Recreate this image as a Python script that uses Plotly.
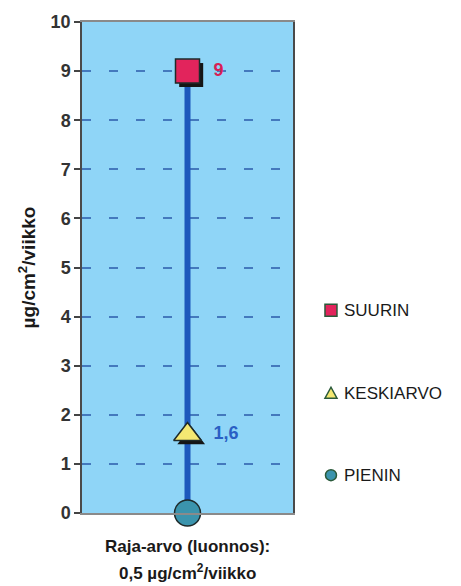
import plotly.graph_objects as go

# Measured values (µg/cm²/viikko)
series_names = ["SUURIN", "KESKIARVO", "PIENIN"]
series_values = [9, 1.6, 0]
value_labels = ["9", "1,6", ""]
category_lines = ["Raja-arvo (luonnos):", "0,5 µg/cm<sup>2</sup>/viikko"]
y_ticks = list(range(0, 11))

FONT = "Liberation Sans, Arial, sans-serif"
marker_symbols = ["square", "triangle-up", "circle"]
marker_colors = ["#e2245c", "#f4e872", "#3b94ad"]
label_colors = ["#d81e55", "#2a5fc4", "#2a5fc4"]
marker_sizes = [24, 24, 26]

x0 = 0
fig = go.Figure()

# Vertical range line from min to max
fig.add_trace(go.Scatter(
    x=[x0, x0], y=[min(series_values), max(series_values)],
    mode="lines", line=dict(color="#1d58bc", width=6),
    showlegend=False, hoverinfo="skip", cliponaxis=False,
))

# Drop shadows under the markers
fig.add_trace(go.Scatter(
    x=[x0 + 0.035] * len(series_values), y=[v - 0.08 for v in series_values],
    mode="markers",
    marker=dict(symbol=marker_symbols, size=marker_sizes, color="#151515",
                opacity=1, line=dict(width=0)),
    showlegend=False, hoverinfo="skip", cliponaxis=False,
))

# Markers with value labels
fig.add_trace(go.Scatter(
    x=[x0] * len(series_values), y=series_values,
    mode="markers+text",
    marker=dict(symbol=marker_symbols, size=marker_sizes, color=marker_colors,
                opacity=1, line=dict(color="#1e2a2a", width=1.5)),
    text=["  " + t for t in value_labels], textposition="middle right",
    textfont=dict(family=FONT, size=18, color=label_colors, weight="bold"),
    showlegend=False, cliponaxis=False,
))

# Legend, drawn to the right of the plot area
legend_y = [0.413, 0.244, 0.077]
legend_x = 1.18
legend_paths = [
    "M-6,-6 L6,-6 L6,6 L-6,6 Z",
    "M-6,-5 L6,-5 L0,6 Z",
    None,
]
edge = "#2b5a3a"
for name, col, ly, path in zip(series_names, marker_colors, legend_y, legend_paths):
    fig.add_annotation(
        x=1.232, y=ly, xref="paper", yref="paper", xanchor="left", yanchor="middle",
        text=name, showarrow=False,
        font=dict(family=FONT, size=17, color="#1a1a1a"),
    )
    common = dict(xref="paper", yref="paper", xsizemode="pixel", ysizemode="pixel",
                  xanchor=legend_x, yanchor=ly, fillcolor=col,
                  line=dict(color=edge, width=1.5), layer="above")
    if path is None:
        fig.add_shape(type="circle", x0=-5.5, x1=5.5, y0=-5.5, y1=5.5, **common)
    else:
        fig.add_shape(type="path", path=path, **common)

# Category label below the axis
for line, ly in zip(category_lines, [-0.0685, -0.121]):
    fig.add_annotation(
        x=0.5, y=ly, xref="paper", yref="paper", xanchor="center", yanchor="middle",
        text="<b>" + line + "</b>", showarrow=False,
        font=dict(family=FONT, size=17, color="#1a1a1a"),
    )

fig.update_layout(
    width=461, height=586,
    margin=dict(l=82, r=168, t=17, b=73),
    paper_bgcolor="white",
    plot_bgcolor="#8fd5f7",
    showlegend=False,
    xaxis=dict(
        range=[-1, 1], tickvals=[x0], ticktext=[""],
        showgrid=False, zeroline=False, showline=True, linecolor="#8a8a8a",
        mirror=True, linewidth=1.5, ticks="",
    ),
    yaxis=dict(
        range=[0, 10], tickvals=y_ticks, ticktext=[str(t) for t in y_ticks],
        showgrid=True, gridcolor="#4479bd", griddash="9px,18px", gridwidth=1.5,
        zeroline=False, showline=True, linecolor="#4a4a4a", linewidth=1.5,
        mirror=True, ticks="outside", ticklen=6, tickcolor="#444444", tickwidth=1.5,
        tickfont=dict(family=FONT, size=18, color="#333333", weight="bold"),
        title=dict(text="<b>µg/cm<sup>2</sup>/viikko</b>", standoff=10,
                   font=dict(family=FONT, size=19, color="#1a1a1a")),
    ),
)

fig.write_html("out.html")
